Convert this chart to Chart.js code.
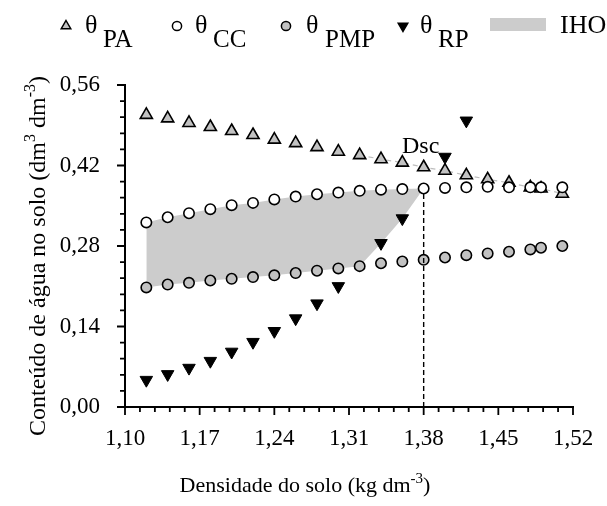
<!DOCTYPE html>
<html>
<head>
<meta charset="utf-8">
<script src="https://cdn.jsdelivr.net/npm/chart.js"></script>
<style>
  html, body { margin: 0; padding: 0; background: #fff; }
  #wrap { width: 607px; height: 506px; position: relative; }
</style>
</head>
<body>
<div id="wrap"><canvas id="iho"></canvas></div>
<script>
// soil bulk density (kg dm-3) and water contents (dm3 dm-3)
const density = [1.12, 1.14, 1.16, 1.18, 1.20, 1.22, 1.24, 1.26, 1.28, 1.30, 1.32, 1.34, 1.36, 1.38, 1.40, 1.42, 1.44, 1.46, 1.48, 1.49, 1.51];
const thetaPA = [0.508, 0.502, 0.494, 0.487, 0.480, 0.473, 0.465, 0.459, 0.452, 0.444, 0.438, 0.431, 0.425, 0.417, 0.411, 0.403, 0.396, 0.390, 0.382, 0.380, 0.371];
const thetaCC = [0.321, 0.330, 0.337, 0.344, 0.351, 0.355, 0.361, 0.366, 0.370, 0.373, 0.376, 0.378, 0.379, 0.380, 0.381, 0.382, 0.383, 0.382, 0.382, 0.382, 0.382];
const thetaPMP = [0.208, 0.213, 0.216, 0.220, 0.223, 0.226, 0.229, 0.233, 0.237, 0.241, 0.245, 0.250, 0.253, 0.256, 0.260, 0.264, 0.267, 0.270, 0.274, 0.277, 0.280];
const thetaRP = [0.047, 0.057, 0.068, 0.080, 0.096, 0.113, 0.132, 0.154, 0.180, 0.210, null, 0.285, 0.328, null, 0.435, 0.498, null, null, null, null, null];

// IHO limits, from 1.12 up to the critical density
const ihoDensity = [1.12, 1.14, 1.16, 1.18, 1.20, 1.22, 1.24, 1.26, 1.28, 1.30, 1.32, 1.34, 1.36, 1.38];
const ihoUpper = [0.321, 0.330, 0.337, 0.344, 0.351, 0.355, 0.361, 0.366, 0.370, 0.373, 0.376, 0.378, 0.379, 0.380];
const ihoLower = [0.208, 0.213, 0.216, 0.220, 0.223, 0.226, 0.229, 0.233, 0.237, 0.241, 0.245, 0.285, 0.328, 0.380];

const dsc = 1.38;
const dscTheta = 0.380;

const xMin = 1.10, xMax = 1.52, xMinorStep = 0.014;
const yMin = 0, yMax = 0.56, yMinorStep = 0.028;

const FONT = '"Liberation Serif", "Times New Roman", serif';
const GRAY_FILL = '#cccccc';
const MARKER_GRAY = '#c2c2c2';

function pts(xs, ys) {
    return xs.map((x, i) => ({ x: x, y: ys[i] }));
}

function fmt(v) {
    return v.toFixed(2).replace('.', ',');
}

// text with superscript pieces, drawn centred on x
function drawRich(ctx, parts, x, y, size) {
    const small = Math.round(size * 0.68);
    let total = 0;
    parts.forEach(p => {
        ctx.font = (p.sup ? small : size) + 'px ' + FONT;
        p.w = ctx.measureText(p.t).width;
        total += p.w;
    });
    let cx = x - total / 2;
    parts.forEach(p => {
        ctx.font = (p.sup ? small : size) + 'px ' + FONT;
        ctx.fillText(p.t, cx, p.sup ? y - size * 0.42 : y);
        cx += p.w;
    });
}

function marker(ctx, kind, x, y) {
    ctx.save();
    ctx.lineWidth = 1.5;
    ctx.strokeStyle = '#000';
    ctx.beginPath();
    if (kind === 'tri' || kind === 'down') {
        const r = 5.5, s = kind === 'tri' ? 1 : -1;
        ctx.moveTo(x, y - s * r);
        ctx.lineTo(x + r * 0.866, y + s * r * 0.5);
        ctx.lineTo(x - r * 0.866, y + s * r * 0.5);
        ctx.closePath();
        ctx.fillStyle = kind === 'tri' ? MARKER_GRAY : '#000';
    } else {
        ctx.arc(x, y, 4.6, 0, Math.PI * 2);
        ctx.fillStyle = kind === 'open' ? '#fff' : MARKER_GRAY;
    }
    ctx.fill();
    ctx.stroke();
    ctx.restore();
}

const decorations = {
    id: 'decorations',
    afterDraw(chart) {
        const ctx = chart.ctx;
        const xs = chart.scales.x, ys = chart.scales.y;
        const area = chart.chartArea;
        ctx.save();

        // outward ticks on both axes, the labelled ones longer
        ctx.setLineDash([]);
        ctx.strokeStyle = '#000';
        ctx.lineWidth = 1.8;
        ctx.beginPath();
        xs.ticks.forEach((t, i) => {
            const px = xs.getPixelForValue(t.value);
            ctx.moveTo(px, area.bottom);
            ctx.lineTo(px, area.bottom + (i % 5 === 0 ? 8 : 5));
        });
        ys.ticks.forEach((t, i) => {
            const py = ys.getPixelForValue(t.value);
            ctx.moveTo(area.left, py);
            ctx.lineTo(area.left - (i % 5 === 0 ? 8 : 5), py);
        });
        ctx.stroke();

        ctx.fillStyle = '#000';
        ctx.textBaseline = 'alphabetic';

        // Dsc label above the critical density
        ctx.font = '24px ' + FONT;
        ctx.textAlign = 'center';
        ctx.fillText('Dsc', xs.getPixelForValue(dsc) - 3, ys.getPixelForValue(dscTheta) - 36);
        ctx.textAlign = 'left';

        // axis titles
        drawRich(ctx, [{ t: 'Densidade do solo (kg dm' }, { t: '-3', sup: true }, { t: ')' }], 305, 492, 22);
        ctx.save();
        ctx.translate(45, 256);
        ctx.rotate(-Math.PI / 2);
        drawRich(ctx, [{ t: 'Conteúdo de água no solo (dm' }, { t: '3', sup: true }, { t: ' dm' }, { t: '-3', sup: true }, { t: ')' }], 0, 0, 24);
        ctx.restore();

        // legend row
        const legend = [
            { kind: 'tri', mx: 66, tx: 85, sx: 103, sub: 'PA' },
            { kind: 'open', mx: 177, tx: 195, sx: 213, sub: 'CC' },
            { kind: 'gray', mx: 286, tx: 306, sx: 325, sub: 'PMP' },
            { kind: 'down', mx: 403, tx: 420, sx: 438, sub: 'RP' }
        ];
        legend.forEach(item => {
            marker(ctx, item.kind, item.mx, 26);
            ctx.font = '26px ' + FONT;
            ctx.fillText('θ', item.tx, 33);
            ctx.font = '25px ' + FONT;
            ctx.fillText(item.sub, item.sx, 47);
        });
        ctx.fillStyle = GRAY_FILL;
        ctx.fillRect(490, 18, 56, 13);
        ctx.fillStyle = '#000';
        ctx.font = '26px ' + FONT;
        ctx.fillText('IHO', 560, 33);

        ctx.restore();
    }
};

const markerBase = { showLine: false, borderColor: '#000' };

new Chart(document.getElementById('iho'), {
    type: 'line',
    data: {
        datasets: [
            {
                label: 'IHO',
                data: pts(ihoDensity, ihoUpper),
                showLine: true,
                borderColor: 'transparent',
                borderWidth: 0,
                pointRadius: 0,
                backgroundColor: GRAY_FILL,
                fill: '+1',
                tension: 0,
                order: 10
            },
            {
                label: 'IHO lower',
                data: pts(ihoDensity, ihoLower),
                showLine: true,
                borderColor: 'transparent',
                borderWidth: 0,
                pointRadius: 0,
                fill: false,
                tension: 0,
                order: 10
            },
            {
                label: 'θPA trend',
                data: pts(density.slice(10), thetaPA.slice(10)),
                showLine: true,
                borderColor: '#bdbdbd',
                borderWidth: 1.2,
                borderDash: [5, 4],
                pointRadius: 0,
                fill: false,
                order: 9
            },
            Object.assign({}, markerBase, {
                label: 'θRP',
                data: pts(density, thetaRP),
                pointStyle: 'triangle',
                rotation: 180,
                pointRadius: 7.2,
                pointBorderWidth: 1,
                pointBackgroundColor: '#000',
                pointBorderColor: '#000',
                order: 5
            }),
            Object.assign({}, markerBase, {
                label: 'θPA',
                data: pts(density, thetaPA),
                pointStyle: 'triangle',
                pointRadius: 7,
                pointBorderWidth: 1.6,
                pointBackgroundColor: MARKER_GRAY,
                pointBorderColor: '#000',
                order: 4
            }),
            Object.assign({}, markerBase, {
                label: 'θPMP',
                data: pts(density, thetaPMP),
                pointStyle: 'circle',
                pointRadius: 5.2,
                pointBorderWidth: 1.6,
                pointBackgroundColor: MARKER_GRAY,
                pointBorderColor: '#000',
                order: 3
            }),
            {
                label: 'Dsc',
                data: [{ x: dsc, y: 0 }, { x: dsc, y: dscTheta }],
                showLine: true,
                borderColor: '#000',
                borderWidth: 1.4,
                borderDash: [5, 3],
                pointRadius: 0,
                fill: false,
                order: 2
            },
            Object.assign({}, markerBase, {
                label: 'θCC',
                data: pts(density, thetaCC),
                pointStyle: 'circle',
                pointRadius: 5.2,
                pointBorderWidth: 1.6,
                pointBackgroundColor: '#fff',
                pointBorderColor: '#000',
                order: 1
            })
        ]
    },
    options: {
        responsive: true,
        maintainAspectRatio: false,
        animation: false,
        layout: { padding: { left: 55, right: 34, top: 85, bottom: 0 } },
        plugins: {
            legend: { display: false },
            tooltip: { enabled: false },
            title: { display: false }
        },
        scales: {
            x: {
                type: 'linear',
                min: xMin,
                max: xMax,
                afterFit(scale) { scale.height = 99; },
                grid: { display: false },
                border: { display: true, color: '#000', width: 2 },
                ticks: {
                    stepSize: xMinorStep,
                    autoSkip: false,
                    maxRotation: 0,
                    padding: 10,
                    color: '#000',
                    font: { family: FONT, size: 23 },
                    callback: (v, i) => i % 5 === 0 ? fmt(v) : ''
                }
            },
            y: {
                type: 'linear',
                min: yMin,
                max: yMax,
                afterFit(scale) { scale.width = 70; },
                grid: { display: false },
                border: { display: true, color: '#000', width: 2 },
                ticks: {
                    stepSize: yMinorStep,
                    autoSkip: false,
                    padding: 17,
                    color: '#000',
                    font: { family: FONT, size: 23 },
                    callback: (v, i) => i % 5 === 0 ? fmt(v) : ''
                }
            }
        }
    },
    plugins: [decorations]
});
</script>
</body>
</html>
